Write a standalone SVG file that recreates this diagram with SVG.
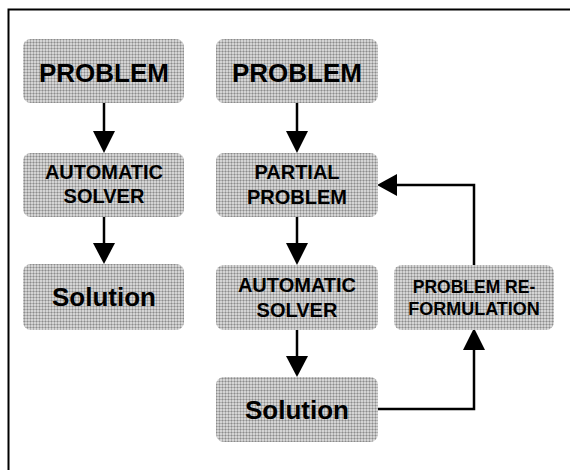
<svg xmlns="http://www.w3.org/2000/svg" width="570" height="470" viewBox="0 0 570 470">
<style>
.box{fill:url(#dots);}
.t{font-family:"Liberation Sans",Arial,sans-serif;font-weight:bold;fill:#000;text-anchor:middle;}
.c{stroke:#000;stroke-width:2.5;fill:none;}
.h{fill:#000;}
</style>
<defs>
<pattern id="dots" width="3" height="3" patternUnits="userSpaceOnUse">
<rect width="3" height="3" fill="#d4d4d4"/>
<rect x="0" y="0" width="3" height="1" fill="#b0b0b0"/>
<rect x="0" y="0" width="1" height="3" fill="#b0b0b0"/>
<rect x="0" y="0" width="1" height="1" fill="#8c8c8c"/>
</pattern>
</defs>
<rect width="570" height="470" fill="#fff"/>
<path d="M8.5 470 V9.5 H570" stroke="#000" stroke-width="2" fill="none"/>

<g id="connectors">
<line class="c" x1="104" y1="103" x2="104" y2="133"/>
<polygon class="h" points="93,131 115,131 104,153"/>
<line class="c" x1="104" y1="217" x2="104" y2="245"/>
<polygon class="h" points="93,243 115,243 104,264"/>
<line class="c" x1="297" y1="103" x2="297" y2="133"/>
<polygon class="h" points="286,131 308,131 297,153"/>
<line class="c" x1="297" y1="217" x2="297" y2="245"/>
<polygon class="h" points="286,243 308,243 297,265"/>
<line class="c" x1="297" y1="330" x2="297" y2="358"/>
<polygon class="h" points="286,356 308,356 297,377"/>
<polyline class="c" points="378,409 474,409 474,348"/>
<polygon class="h" points="463,350 485,350 474,328"/>
<polyline class="c" points="474,265 474,185 395,185"/>
<polygon class="h" points="397,174 397,196 377,185"/>
</g>

<g id="problem1">
<rect class="box" x="23" y="39" width="161" height="64" rx="8"/>
<text class="t" x="104" y="82" font-size="26">PROBLEM</text>
</g>
<g id="solver1">
<rect class="box" x="23" y="153" width="161" height="64" rx="8"/>
<text class="t" x="104" y="179" font-size="20">AUTOMATIC</text>
<text class="t" x="104" y="203" font-size="20">SOLVER</text>
</g>
<g id="solution1">
<rect class="box" x="23" y="264" width="161" height="66" rx="8"/>
<text class="t" x="104" y="306" font-size="26">Solution</text>
</g>

<g id="problem2">
<rect class="box" x="216" y="39" width="162" height="64" rx="8"/>
<text class="t" x="297" y="82" font-size="26">PROBLEM</text>
</g>
<g id="partial">
<rect class="box" x="216" y="153" width="162" height="64" rx="8"/>
<text class="t" x="297" y="179" font-size="20">PARTIAL</text>
<text class="t" x="297" y="204" font-size="20">PROBLEM</text>
</g>
<g id="solver2">
<rect class="box" x="216" y="265" width="162" height="65" rx="8"/>
<text class="t" x="297" y="292" font-size="20">AUTOMATIC</text>
<text class="t" x="297" y="317" font-size="20">SOLVER</text>
</g>
<g id="reform">
<rect class="box" x="394" y="265" width="160" height="65" rx="8"/>
<text class="t" x="474" y="293" font-size="17.5">PROBLEM RE-</text>
<text class="t" x="474" y="315" font-size="18">FORMULATION</text>
</g>
<g id="solution2">
<rect class="box" x="216" y="377" width="162" height="65" rx="8"/>
<text class="t" x="297" y="419" font-size="26">Solution</text>
</g>
</svg>
